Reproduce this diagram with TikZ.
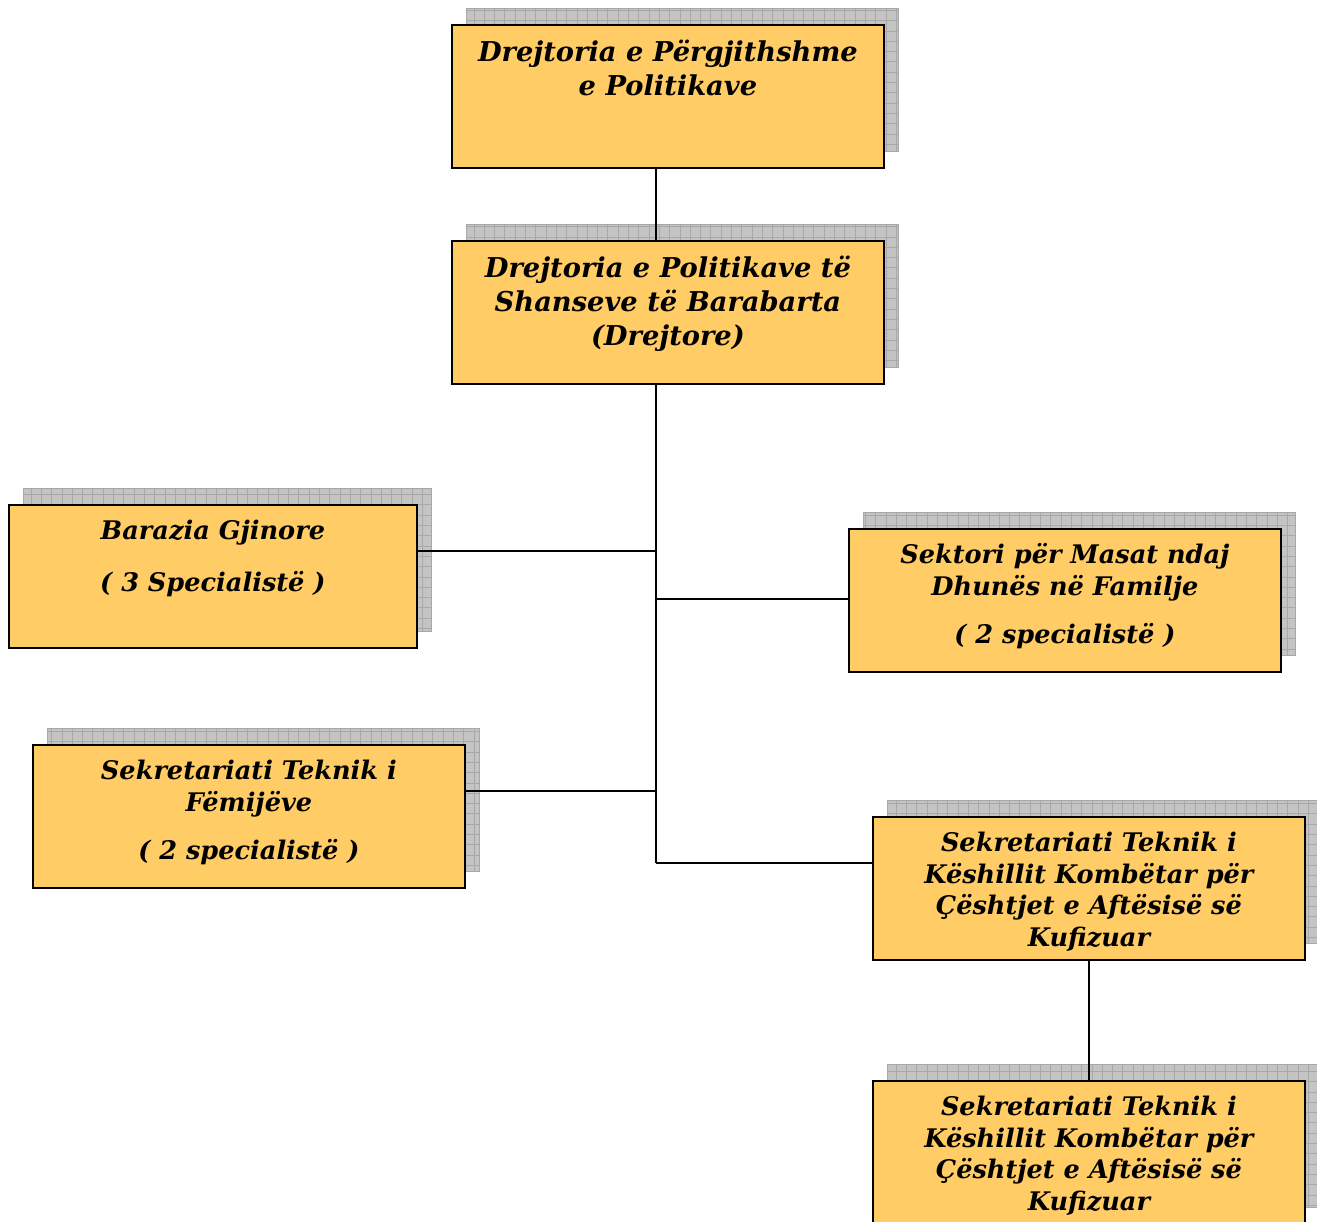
\documentclass[tikz,border=0pt]{standalone}
\usepackage{fontspec}
\setmainfont{DejaVu Serif}
\definecolor{boxfill}{HTML}{FFCC66}
\definecolor{shadefill}{HTML}{C4C4C4}
\definecolor{shadegrid}{HTML}{A8A8A8}
\tikzset{
  box/.style={draw=black, line width=1.8pt, fill=boxfill, minimum width=432pt, minimum height=143pt, inner sep=0pt, anchor=north west},
  narrowbox/.style={box, minimum width=408pt},
  txt/.style={align=center, font=\bfseries\itshape\fontsize{25.6}{31.5}\selectfont, anchor=north, inner sep=0pt, yshift=-13.5pt},
  bigtxt/.style={align=center, font=\bfseries\itshape\fontsize{27.3}{34}\selectfont, anchor=north, inner sep=0pt, yshift=-14pt},
  link/.style={line width=1.8pt}
}
\newcommand\shd[3]{%
  \fill[shadefill] (#1+15,-#2+16) rectangle (#1+15+#3,-#2-127);
  \draw[shadegrid, line width=0.6pt, step=10.3pt] (#1+15,-#2+16) grid (#1+15+#3,-#2-127);
  \draw[shadegrid, line width=0.6pt] (#1+15,-#2+16) rectangle (#1+15+#3,-#2-127);
}
\begin{document}
\begin{tikzpicture}[x=1pt,y=1pt]
\useasboundingbox (0,0) rectangle (1317,-1222);
\clip (0,0) rectangle (1317,-1222);
% shadows
\shd{451}{24}{432}
\shd{451}{240}{432}
\shd{8}{504}{408}
\shd{848}{528}{432}
\shd{32}{744}{432}
\shd{872}{816}{432}
\shd{872}{1080}{432}
% junction coordinates on the trunk
\coordinate (t1) at (656,-551);
\coordinate (t2) at (656,-599);
\coordinate (t3) at (656,-791);
\coordinate (t4) at (656,-863);
% boxes
\node[box] (b1) at (451,-24) {};
\node[box] (b2) at (451,-240) {};
\node[narrowbox] (b3) at (8,-504) {};
\node[box] (b4) at (848,-528) {};
\node[box] (b5) at (32,-744) {};
\node[box] (b6) at (872,-816) {};
\node[box] (b7) at (872,-1080) {};
% connectors
\draw[link] (b1.south -| t1) -- (b2.north -| t1);
\draw[link] (b2.south -| t4) -- (t4);
\draw[link] (t1) -- (b3.east |- t1);
\draw[link] (t2) -- (b4.west |- t2);
\draw[link] (t3) -- (b5.east |- t3);
\draw[link] (t4) -- (b6.west |- t4);
\draw[link] (b6.south) -- (b7.north);
% texts
\node[bigtxt] (l1) at (b1.north) {\strut Drejtoria e Përgjithshme\\e Politikave};
\node[bigtxt] (l2) at (b2.north) {\strut Drejtoria e Politikave të\\Shanseve të Barabarta\\(Drejtore)};
\node[txt] (l3) at (b3.north) {\strut Barazia Gjinore\\[20.5pt]( 3 Specialistë )};
\node[txt] (l4) at (b4.north) {\strut Sektori për Masat ndaj\\Dhunës në Familje\\[17pt]( 2 specialistë )};
\node[txt] (l5) at (b5.north) {\strut Sekretariati Teknik i\\Fëmijëve\\[17pt]( 2 specialistë )};
\node[txt] (l6) at (b6.north) {\strut Sekretariati Teknik i\\Këshillit Kombëtar për\\Çështjet e Aftësisë së\\Kufizuar};
\node[txt] (l7) at (b7.north) {\strut Sekretariati Teknik i\\Këshillit Kombëtar për\\Çështjet e Aftësisë së\\Kufizuar};
\end{tikzpicture}
\end{document}
